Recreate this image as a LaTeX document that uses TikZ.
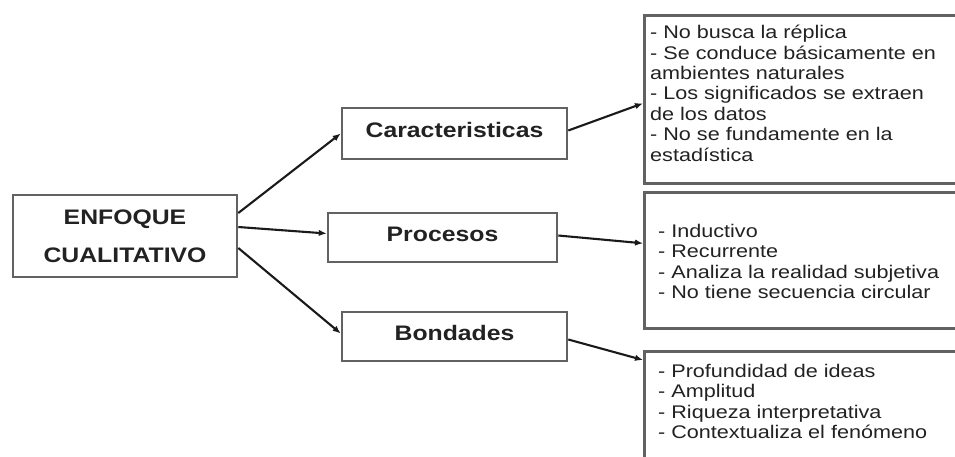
\documentclass[tikz,border=0pt]{standalone}
\usepackage{fontspec}
\setmainfont[FakeStretch=1.18]{Liberation Sans}
\usetikzlibrary{arrows.meta,calc}
\definecolor{boxgray}{HTML}{626262}
\definecolor{inkgray}{HTML}{222222}
\definecolor{linegray}{HTML}{1A1A1A}

\begin{document}
\begin{tikzpicture}[x=1pt,y=-1pt,
  box/.style={draw=boxgray, line width=2.6pt, fill=white, inner sep=0pt},
  head/.style={font=\fontsize{21}{38}\selectfont\bfseries, align=center, text=inkgray},
  lifted/.style={text height=15pt, text depth=8pt},
  listtext/.style={font=\fontsize{18.3}{20.4}\selectfont, align=left, text=inkgray,
                   inner sep=0pt, anchor=north west},
  link/.style={draw=linegray, line width=2.1pt, -{Latex[length=8pt,width=6.5pt]}}]

\useasboundingbox (0,0) rectangle (955,456);
\clip (0,0) rectangle (955,456);

% central concept
\node[box, head, minimum width=224pt, minimum height=82pt] (enf) at (125,236)
  {ENFOQUE\\CUALITATIVO};

% three branches
\node[box, head, lifted, minimum width=225pt, minimum height=51pt] (car) at (454.5,133.5)
  {Caracteristicas};
\node[box, head, lifted, minimum width=229pt, minimum height=49pt] (pro) at (442.5,237.5)
  {Procesos};
\node[box, head, lifted, minimum width=225pt, minimum height=49pt] (bon) at (454.5,336.5)
  {Bondades};

% detail boxes (running past the right and bottom edges)
\node[box, minimum width=330pt, minimum height=168pt, anchor=north west] (r1) at (643,14) {};
\node[box, minimum width=330pt, minimum height=136pt, anchor=north west] (r2) at (643,191) {};
\node[box, minimum width=330pt, minimum height=130pt, anchor=north west] (r3) at (643,350) {};

\node[listtext] (t1) at (650,25)
  {- No busca la réplica\\
   - Se conduce básicamente en\\
   ambientes naturales\\
   - Los significados se extraen\\
   de los datos\\
   - No se fundamente en la\\
   estadística};
\node[listtext] (t2) at (658,224)
  {- Inductivo\\
   - Recurrente\\
   - Analiza la realidad subjetiva\\
   - No tiene secuencia circular};
\node[listtext] (t3) at (658,364)
  {- Profundidad de ideas\\
   - Amplitud\\
   - Riqueza interpretativa\\
   - Contextualiza el fenómeno};

% connectors
\draw[link] ($(enf.east)+(0,-23)$) -- (car.west);
\draw[link] ($(enf.east)+(0,-9)$) -- ($(pro.west)+(0,-4)$);
\draw[link] ($(enf.east)+(0,12)$) -- ($(bon.west)+(0,-3)$);
\draw[link] ($(car.east)+(0,-3)$) -- ($(r1.west)+(0,4)$);
\draw[link] ($(pro.east)+(0,-2)$) -- ($(r2.west)+(0,-17)$);
\draw[link] ($(bon.east)+(0,3)$) -- ($(r3.north west)+(0,10)$);
\end{tikzpicture}
\end{document}
